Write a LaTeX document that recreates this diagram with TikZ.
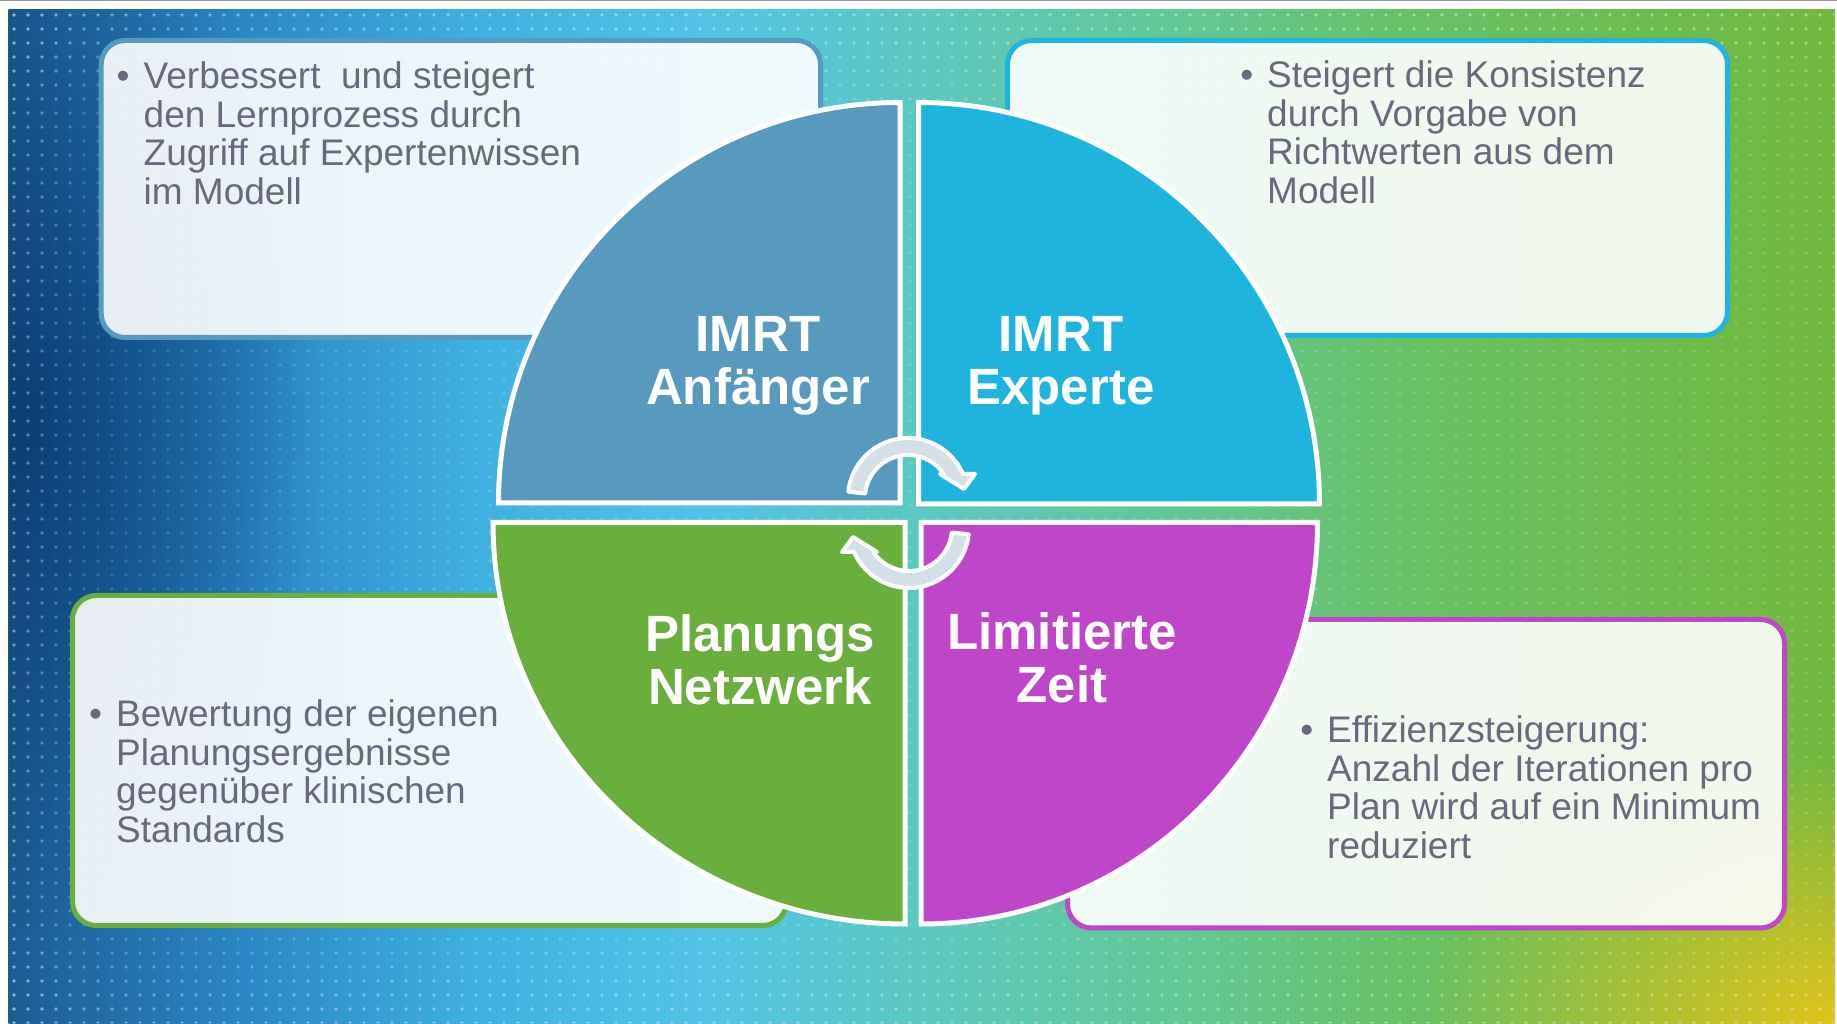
\documentclass[tikz,border=0pt]{standalone}
\usepackage{fontspec}
\setmainfont{Liberation Sans}
\usetikzlibrary{fadings,patterns}

% palette
\definecolor{quadblue}{RGB}{88,154,190}
\definecolor{quadcyan}{RGB}{30,180,222}
\definecolor{quadgreen}{RGB}{106,174,62}
\definecolor{quadmagenta}{RGB}{190,70,200}
\definecolor{bodygray}{RGB}{105,105,125}
\definecolor{arrowfill}{RGB}{213,223,232}
\definecolor{topline}{RGB}{150,150,165}
\definecolor{sunyellow}{RGB}{224,196,30}
\definecolor{deepblue}{RGB}{8,58,112}

% left-to-right backdrop: dark blue, cyan, teal, green
\pgfdeclarehorizontalshading{backdrop}{100bp}{%
  rgb(0bp)=(0.110,0.360,0.580);
  rgb(25bp)=(0.110,0.360,0.580);
  rgb(31.35bp)=(0.165,0.525,0.769);
  rgb(37.75bp)=(0.247,0.690,0.878);
  rgb(44bp)=(0.322,0.765,0.902);
  rgb(50bp)=(0.361,0.784,0.753);
  rgb(57bp)=(0.384,0.784,0.588);
  rgb(63.5bp)=(0.408,0.757,0.392);
  rgb(75bp)=(0.447,0.722,0.243);
  rgb(100bp)=(0.447,0.722,0.243)}

% fine dot raster over the backdrop
\pgfdeclarepatternformonly{bgdots}{\pgfqpoint{-7pt}{-7pt}}{\pgfqpoint{7pt}{7pt}}{\pgfqpoint{14pt}{14pt}}{%
  \pgfpathcircle{\pgfpointorigin}{1.9pt}\pgfusepath{fill}}

\tikzfading[name=softspot, inner color=transparent!0, outer color=transparent!100]

\newcommand\itemdot{\llap{\textbullet\hspace{14pt}}}

\begin{document}
\begin{tikzpicture}[x=1pt,y=1pt,
  panel/.style={line width=5pt, fill=white, fill opacity=0.9, rounded corners=24pt},
  quadrant/.style={draw=white, line width=5pt, line join=miter},
  cyclearrow/.style={fill=arrowfill, draw=white, line width=4pt, line join=round},
  bodytext/.style={anchor=base west, align=left, inner sep=0pt, text=bodygray,
    font=\fontsize{37}{38.5}\selectfont},
  quadlabel/.style={anchor=base, align=center, inner sep=0pt, text=white,
    font=\fontsize{51}{53}\selectfont\bfseries}]

\useasboundingbox (0,0) rectangle (1837,1023);
\fill[white] (0,0) rectangle (1837,1023);
\fill[topline] (0,1021.8) rectangle (1837,1023);

% backdrop
\begin{scope}
  \clip (8.5,0) rectangle (1835,1013);
  \shade[shading=backdrop] (8.5,0) rectangle (1835,1013);
  \fill[deepblue, path fading=softspot, fill opacity=0.85] (-280,80) rectangle (320,1120);
  \fill[sunyellow, path fading=softspot] (1420,-270) rectangle (2250,270);
  \fill[pattern=bgdots, pattern color=white, fill opacity=0.16] (8.5,0) rectangle (1835,1013);
  % stronger raster along the rim
  \fill[pattern=bgdots, pattern color=white, fill opacity=0.3, path fading=south] (8.5,900) rectangle (1835,1013);
  \fill[pattern=bgdots, pattern color=white, fill opacity=0.3, path fading=north] (8.5,0) rectangle (1835,110);
  \fill[pattern=bgdots, pattern color=white, fill opacity=0.3, path fading=east] (8.5,0) rectangle (90,1013);
\end{scope}

% text panels
\draw[panel, draw=quadblue]    (101.2,685.5) rectangle (820.5,982.5);
\draw[panel, draw=quadcyan]    (1007.5,687.5) rectangle (1727.5,982.5);
\draw[panel, draw=quadgreen]   (72.5,97.5) rectangle (786.5,427.5);
\draw[panel, draw=quadmagenta] (1067.5,95) rectangle (1784.5,403.5);

% quarter discs
\path[quadrant, fill=quadblue] (900,520) -- (498.5,520)
  arc[start angle=180, end angle=90, x radius=401.5pt, y radius=400.5pt] -- cycle;
\path[quadrant, fill=quadcyan] (918.5,519) -- (918.5,920.5)
  arc[start angle=90, end angle=0, x radius=401pt, y radius=401.5pt] -- cycle;
\path[quadrant, fill=quadgreen] (905,500.5) -- (493,500.5)
  arc[start angle=180, end angle=270, x radius=412pt, y radius=401.5pt] -- cycle;
\path[quadrant, fill=quadmagenta] (921,500.5) -- (921,99)
  arc[start angle=270, end angle=360, x radius=396.5pt, y radius=401.5pt] -- cycle;

% cycle arrows
\path[cyclearrow] (848.33,531.27)
  arc[start angle=174, end angle=23.58, radius=60pt]
  -- (975,549) -- (964,534) -- (940,549) -- (943.7,549)
  arc[start angle=33.92, end angle=174, radius=43pt] -- cycle;
\begin{scope}[rotate around={180:(908.5,510)}]
  \path[cyclearrow] (848.33,531.27)
    arc[start angle=174, end angle=23.58, radius=60pt]
    -- (975,549) -- (964,534) -- (940,549) -- (943.7,549)
    arc[start angle=33.92, end angle=174, radius=43pt] -- cycle;
\end{scope}

% quadrant labels (anchored at the baseline of the last line)
\node[quadlabel] (lblnovice)  at (758,618)  {IMRT\\Anfänger};
\node[quadlabel] (lblexpert)  at (1061,618) {IMRT\\Experte};
\node[quadlabel] (lblnetwork) at (760,318)  {Planungs\\Netzwerk};
\node[quadlabel] (lbltime)    at (1062,320) {Limitierte\\Zeit};

% panel texts (anchored at the baseline of the last line)
\node[bodytext] (tlnote) at (143.5,818.5)
  {\itemdot Verbessert\ \ und steigert\\den Lernprozess durch\\Zugriff auf Expertenwissen\\im Modell};
\node[bodytext] (trnote) at (1267,819.5)
  {\itemdot Steigert die Konsistenz\\durch Vorgabe von\\Richtwerten aus dem\\Modell};
\node[bodytext] (blnote) at (116,180.8)
  {\itemdot Bewertung der eigenen\\Planungsergebnisse\\gegenüber klinischen\\Standards};
\node[bodytext] (brnote) at (1327,164.5)
  {\itemdot Effizienzsteigerung:\\Anzahl der Iterationen pro\\Plan wird auf ein Minimum\\reduziert};
\end{tikzpicture}
\end{document}
